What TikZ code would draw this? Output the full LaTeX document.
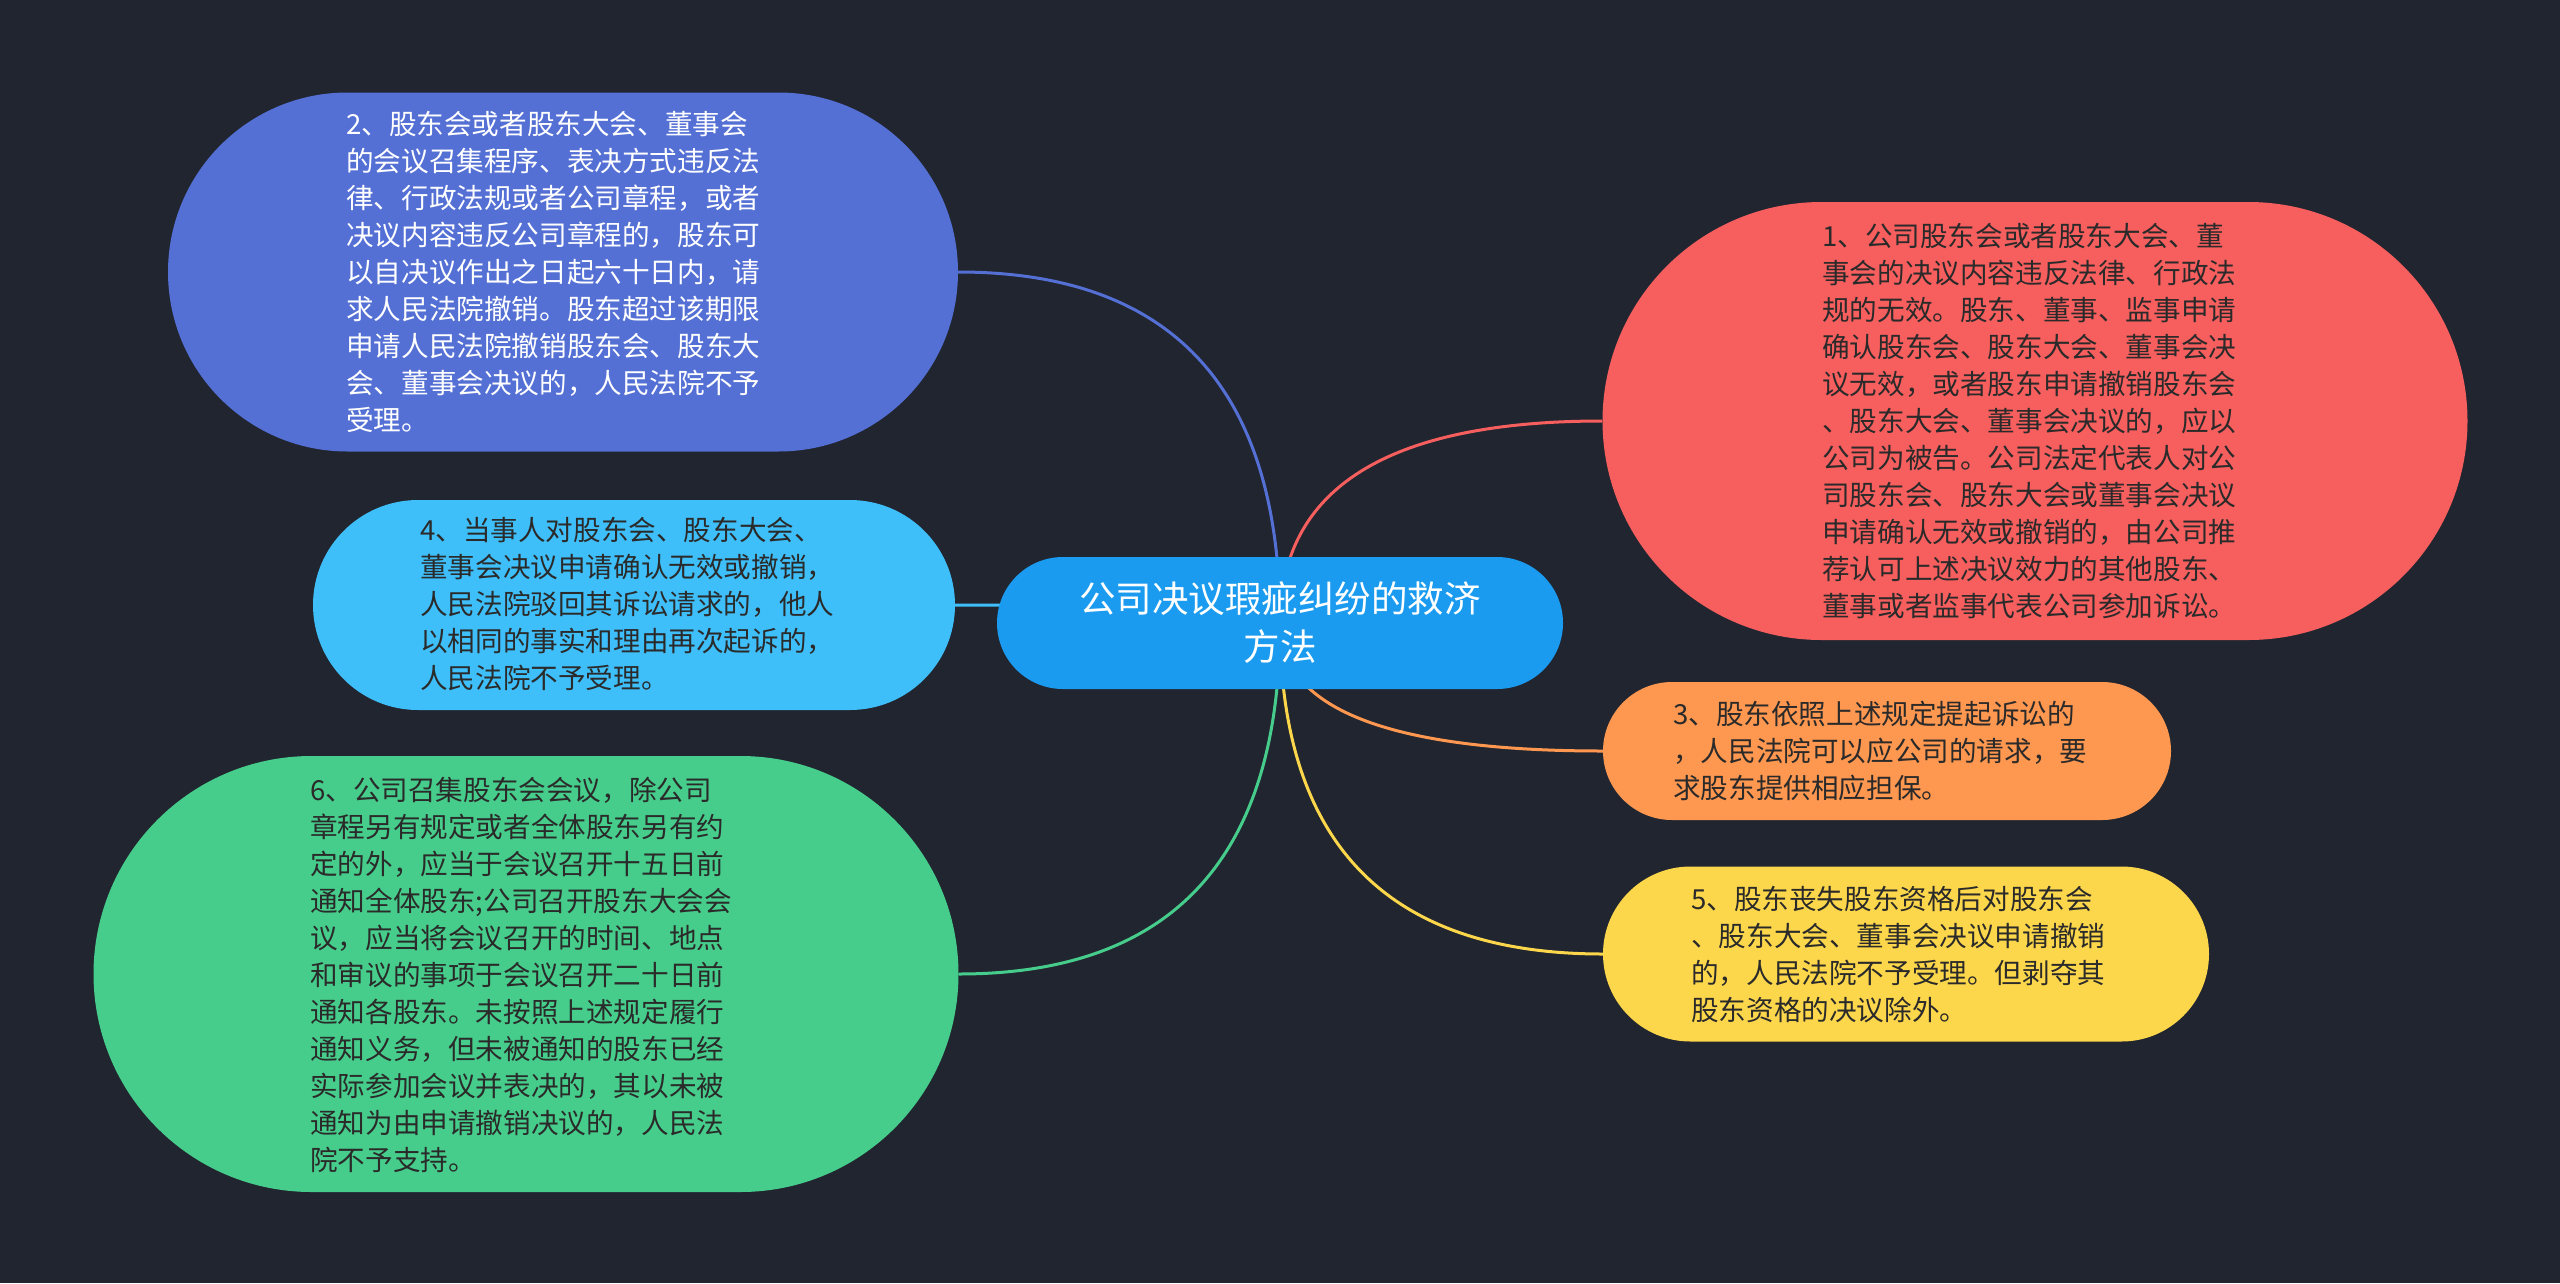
\documentclass[tikz,border=0pt]{standalone}
\usepackage{fontspec}
\setmainfont{Noto Sans CJK SC}
\usetikzlibrary{shapes.misc,calc}
\pgfdeclarelayer{bg}
\pgfdeclarelayer{links}
\pgfsetlayers{bg,links,main}
\definecolor{bgc}{HTML}{212530}
\definecolor{cmain}{HTML}{1A9BF0}
\definecolor{ctwo}{HTML}{5470D5}
\definecolor{cone}{HTML}{F75E5E}
\definecolor{cfour}{HTML}{3FBFF9}
\definecolor{csix}{HTML}{46CD8B}
\definecolor{cthree}{HTML}{FE974F}
\definecolor{cfive}{HTML}{FDD74B}
\definecolor{darktext}{HTML}{2A2A2A}
\begin{document}
\begin{tikzpicture}[x=1pt,y=1pt,
  bubble/.style={rounded rectangle, inner sep=0pt, draw=none},
  body/.style={font=\fontsize{27.6pt}{37pt}\selectfont, align=left, anchor=west, inner sep=0pt, text=darktext},
  link/.style={line width=3pt}]
\begin{pgfonlayer}{bg}
\fill[bgc] (0,0) rectangle (2560,-1283);
\end{pgfonlayer}
\useasboundingbox (0,0) rectangle (2560,-1283);

% shapes
\node[bubble, fill=cmain, minimum width=566pt, minimum height=132pt] (c) at (1280,-623) {};
\node[bubble, fill=ctwo, minimum width=790pt, minimum height=359pt] (n2) at (563,-272) {};
\node[bubble, fill=cone, minimum width=865pt, minimum height=438pt] (n1) at (2035,-421) {};
\node[bubble, fill=cfour, minimum width=642pt, minimum height=210pt] (n4) at (634,-605) {};
\node[bubble, fill=csix, minimum width=865pt, minimum height=436pt] (n6) at (526,-974) {};
\node[bubble, fill=cthree, minimum width=568pt, minimum height=138pt] (n3) at (1887,-751) {};
\node[bubble, fill=cfive, minimum width=606pt, minimum height=175pt] (n5) at (1906,-954) {};

% texts
\node[font=\fontsize{36.5pt}{48pt}\selectfont, align=center, text=white, inner sep=0pt] (tc) at (1280,-623)
  {公司决议瑕疵纠纷的救济\\方法};
\node[body, text=white] (t2) at (346,-272) {2、股东会或者股东大会、董事会\\的会议召集程序、表决方式违反法\\律、行政法规或者公司章程，或者\\决议内容违反公司章程的，股东可\\以自决议作出之日起六十日内，请\\求人民法院撤销。股东超过该期限\\申请人民法院撤销股东会、股东大\\会、董事会决议的，人民法院不予\\受理。};
\node[body] (t1) at (1822,-421) {1、公司股东会或者股东大会、董\\事会的决议内容违反法律、行政法\\规的无效。股东、董事、监事申请\\确认股东会、股东大会、董事会决\\议无效，或者股东申请撤销股东会\\、股东大会、董事会决议的，应以\\公司为被告。公司法定代表人对公\\司股东会、股东大会或董事会决议\\申请确认无效或撤销的，由公司推\\荐认可上述决议效力的其他股东、\\董事或者监事代表公司参加诉讼。};
\node[body] (t4) at (420,-604) {4、当事人对股东会、股东大会、\\董事会决议申请确认无效或撤销，\\人民法院驳回其诉讼请求的，他人\\以相同的事实和理由再次起诉的，\\人民法院不予受理。};
\node[body] (t6) at (310,-975) {6、公司召集股东会会议，除公司\\章程另有规定或者全体股东另有约\\定的外，应当于会议召开十五日前\\通知全体股东;公司召开股东大会会\\议，应当将会议召开的时间、地点\\和审议的事项于会议召开二十日前\\通知各股东。未按照上述规定履行\\通知义务，但未被通知的股东已经\\实际参加会议并表决的，其以未被\\通知为由申请撤销决议的，人民法\\院不予支持。};
\node[body] (t3) at (1673,-751) {3、股东依照上述规定提起诉讼的\\，人民法院可以应公司的请求，要\\求股东提供相应担保。};
\node[body] (t5) at (1691,-955) {5、股东丧失股东资格后对股东会\\、股东大会、董事会决议申请撤销\\的，人民法院不予受理。但剥夺其\\股东资格的决议除外。};

% connectors
\begin{pgfonlayer}{links}
\draw[link, ctwo] (c.center) .. controls ($(c.center)!0.6667!(c.center |- n2.east)$) and ($(n2.east)!0.6667!(c.center |- n2.east)$) .. (n2.east);
\draw[link, cfour] (c.center) .. controls ($(c.center)!0.6667!(c.center |- n4.east)$) and ($(n4.east)!0.6667!(c.center |- n4.east)$) .. (n4.east);
\draw[link, csix] (c.center) .. controls ($(c.center)!0.6667!(c.center |- n6.east)$) and ($(n6.east)!0.6667!(c.center |- n6.east)$) .. (n6.east);
\draw[link, cone] (c.center) .. controls ($(c.center)!0.6667!(c.center |- n1.west)$) and ($(n1.west)!0.6667!(c.center |- n1.west)$) .. (n1.west);
\draw[link, cthree] (c.center) .. controls ($(c.center)!0.6667!(c.center |- n3.west)$) and ($(n3.west)!0.6667!(c.center |- n3.west)$) .. (n3.west);
\draw[link, cfive] (c.center) .. controls ($(c.center)!0.6667!(c.center |- n5.west)$) and ($(n5.west)!0.6667!(c.center |- n5.west)$) .. (n5.west);
\end{pgfonlayer}
\end{tikzpicture}
\end{document}
